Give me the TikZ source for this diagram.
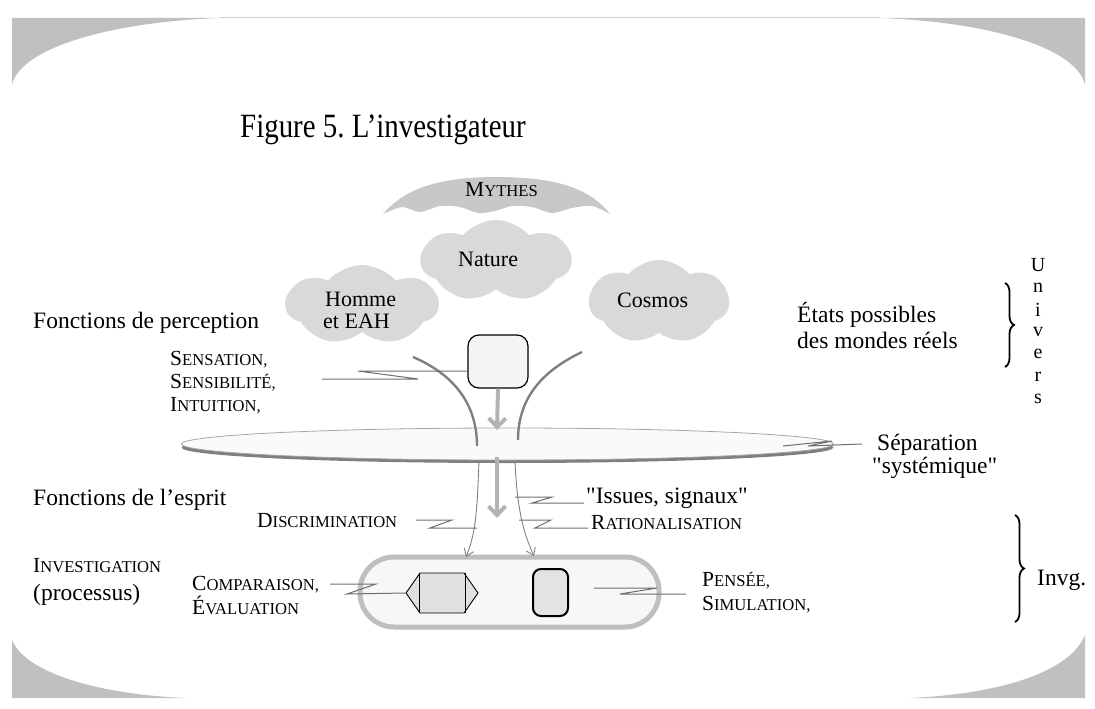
\documentclass[tikz,border=0pt]{standalone}
\usepackage{fontspec}
\setmainfont{Liberation Serif}[Ligatures=TeXOff]
\usetikzlibrary{shapes.symbols,shapes.geometric,arrows.meta,decorations.pathreplacing}

\definecolor{cornergray}{HTML}{C0C0C0}
\definecolor{cloudgray}{HTML}{D9D9D9}
\definecolor{mythgray}{HTML}{C8C8C8}
\definecolor{arcgray}{HTML}{808080}
\definecolor{flowgray}{HTML}{B3B3B3}
\definecolor{sepfill}{HTML}{FAFAFA}
\definecolor{sepline}{HTML}{A6A6A6}
\definecolor{sepdark}{HTML}{7F7F7F}
\definecolor{pillline}{HTML}{BFBFBF}
\definecolor{pillfill}{HTML}{F7F7F7}
\definecolor{leadgray}{HTML}{6E6E6E}

% small caps built from two sizes
\newcommand\skc[2]{{\fontsize{21.5}{26}\selectfont #1\fontsize{16.6}{20}\selectfont #2}}

\tikzset{
  lbl/.style={font=\fontsize{23.5}{28}\selectfont, anchor=base west, inner sep=0pt},
  cloudlbl/.style={font=\fontsize{22}{26}\selectfont, anchor=base west, inner sep=0pt},
  sclbl/.style={anchor=base west, inner sep=0pt},
  puff/.style={cloud, cloud puffs=7, cloud puff arc=100, fill=cloudgray, draw=none, inner sep=0pt},
  arcline/.style={draw=arcgray, line width=2.4pt},
  flowarrow/.style={draw=flowgray, line width=4pt, -{Straight Barb[length=9pt,width=17pt,line width=4pt]}},
  thinarrow/.style={draw=arcgray, line width=0.9pt, -{Straight Barb[length=7pt,width=10pt]}},
  leader/.style={draw=leadgray, line width=1pt},
  bracestyle/.style={decorate, decoration={brace, amplitude=9pt}, line width=1.8pt},
}

\begin{document}
\frenchspacing
\begin{tikzpicture}[x=1pt,y=-1pt]
\useasboundingbox (0,0) rectangle (1095,709);

% slide frame corners
\fill[cornergray] (12,18) -- (220,18) .. controls (110,22) and (20,48) .. (12,85) -- cycle;
\fill[cornergray] (1085,18) -- (880,18) .. controls (990,22) and (1077,48) .. (1085,85) -- cycle;
\fill[cornergray] (12,698) -- (185,698) .. controls (95,694) and (25,672) .. (12,640) -- cycle;
\fill[cornergray] (1085,698) -- (910,698) .. controls (1000,694) and (1070,672) .. (1085,635) -- cycle;
\draw[cornergray!80, line width=1pt] (220,18) -- (880,18);

% title, set narrow
\node[anchor=base west, inner sep=0pt] (title) at (240,137)
  {\scalebox{0.85}[1]{\fontsize{34}{40}\selectfont Figure 5. L’investigateur}};

% myths banner
\fill[mythgray] (383,214) .. controls (405,188) and (440,177) .. (497,177)
  .. controls (555,177) and (590,188) .. (610,214)
  -- plot[smooth] coordinates {(610,214) (592,206) (572,208) (552,213) (532,207) (512,206) (495,211) (478,213) (460,207) (440,206) (420,212) (402,207) (383,214)} -- cycle;
\node[sclbl] (mythes) at (465,196) {\skc{M}{YTHES}};

% clouds
\node[puff, minimum width=150pt, minimum height=82pt] (nature) at (496,261) {};
\node[cloudlbl] (naturetxt) at (458,266) {Nature};
\node[puff, minimum width=152pt, minimum height=80pt] (homme) at (362,305) {};
\node[cloudlbl] (hommetxt) at (325,306) {Homme};
\node[cloudlbl] (eahtxt) at (323,328) {et EAH};
\node[puff, minimum width=140pt, minimum height=84pt] (cosmos) at (659,302) {};
\node[cloudlbl] (cosmostxt) at (617,307) {Cosmos};

% separation disc with its darker lower rim
\node[ellipse, fill=sepdark, draw=none, minimum width=652pt, minimum height=31pt, inner sep=0pt] (sepshadow) at (507.5,447.5) {};
\node[ellipse, fill=sepfill, draw=sepline, line width=0.8pt, minimum width=652pt, minimum height=32pt, inner sep=0pt] (sep) at (507.5,444) {};

% perception arcs reaching into the disc
\coordinate (pl0) at (413,357); \coordinate (pl1) at (477,446);
\coordinate (pr0) at (582,352); \coordinate (pr1) at (518,440);
\draw[arcline] (pl0) .. controls (455,375) and (477,405) .. (pl1);
\draw[arcline] (pr0) .. controls (540,372) and (518,400) .. (pr1);

% perception box
\node[draw=black, line width=1.2pt, fill=black!4, rounded corners=11pt, minimum width=60pt, minimum height=53pt, inner sep=0pt] (percep) at (498,361.5) {};
\coordinate (pa) at (497,430);
\draw[flowarrow] (percep.south) -- (pa);

% flow through the disc
\coordinate (fa0) at (497,457); \coordinate (fa1) at (497,518);
\draw[flowarrow] (fa0) -- (fa1);

% investigation pill
\node[draw=pillline, line width=5pt, fill=pillfill, rounded corners=34pt, minimum width=299pt, minimum height=70pt, inner sep=0pt] (inv) at (509.5,592) {};
\node[signal, signal to=east and west, signal pointer angle=110, draw=black, line width=0.9pt, fill=black!12, minimum width=72pt, minimum height=40pt, inner sep=0pt] (hexa) at (442,593) {};
\draw[line width=0.9pt] (419,573) -- (419,613) (465,573) -- (465,613);
\node[draw=black, line width=2pt, fill=black!11, rounded corners=8pt, minimum width=35pt, minimum height=47pt, inner sep=0pt] (think) at (550.5,592.5) {};

% thin arrows from the disc down to the pill
\coordinate (dl0) at (479,462); \coordinate (dl1) at (466,557);
\coordinate (dr0) at (515,462); \coordinate (dr1) at (534,556);
\draw[thinarrow] (dl0) .. controls (477,505) and (477,530) .. (dl1);
\draw[thinarrow] (dr0) .. controls (517,505) and (522,530) .. (dr1);

% left labels
\node[lbl] (fperc) at (33,328) {Fonctions de perception};
\node[sclbl] (sens1) at (170,365) {\skc{S}{ENSATION,}};
\node[sclbl] (sens2) at (170,388) {\skc{S}{ENSIBILITÉ,}};
\node[sclbl] (sens3) at (170,411) {\skc{I}{NTUITION,}};
\node[lbl] (fesp) at (33,505) {Fonctions de l’esprit};
\node[sclbl] (discr) at (257,527) {\skc{D}{ISCRIMINATION}};
\node[sclbl] (invest) at (33,572) {\skc{I}{NVESTIGATION}};
\node[lbl] (proc) at (33,600) {(processus)};
\node[sclbl] (comp) at (192,590) {\skc{C}{OMPARAISON,}};
\node[sclbl] (eval) at (192,614) {\skc{É}{VALUATION}};

% right labels
\node[lbl] (issues) at (586,503) {"Issues, signaux"};
\node[sclbl] (ratio) at (591,529) {\skc{R}{ATIONALISATION}};
\node[sclbl] (pens) at (702,586) {\skc{P}{ENSÉE,}};
\node[sclbl] (simu) at (702,610) {\skc{S}{IMULATION,}};
\node[lbl] (separ) at (877,450) {Séparation};
\node[lbl] (syst) at (872,473) {"systémique"};
\node[lbl] (etats) at (797,322) {États possibles};
\node[lbl] (mondes) at (797,348) {des mondes réels};
\node[lbl] (invg) at (1037,585) {Invg.};

% the word Univers written downwards
\foreach \ch [count=\k from 0] in {U,n,i,v,e,r,s}
  \node[font=\fontsize{20}{24}\selectfont, inner sep=0pt] (univ\k) at (1038,{265+22.3*\k}) {\ch};

% braces
\coordinate (bu0) at (1005,283); \coordinate (bu1) at (1005,367);
\draw[bracestyle] (bu0) -- (bu1);
\coordinate (bi0) at (1015,515); \coordinate (bi1) at (1015,622);
\draw[bracestyle] (bi0) -- (bi1);

% leader lines
\draw[leader] (322,379) -- (418,379) -- (358,371) -- (percep.west |- 0,371);
\draw[leader] (416,520) -- (452,520) -- (430,528) -- (477,528);
\draw[leader] (519,520) -- (551,520) -- (535,528) -- (588,528);
\draw[leader] (515,497) -- (552,497) -- (532,503) -- (584,503);
\draw[leader] (330,584) -- (376,584) -- (347,594) -- (hexa.west);
\draw[leader] (594,588) -- (657,588) -- (620,594) -- (686,594);
\draw[leader] (783,446) -- (832,441) -- (808,446) -- (862,444);

\end{tikzpicture}
\end{document}
